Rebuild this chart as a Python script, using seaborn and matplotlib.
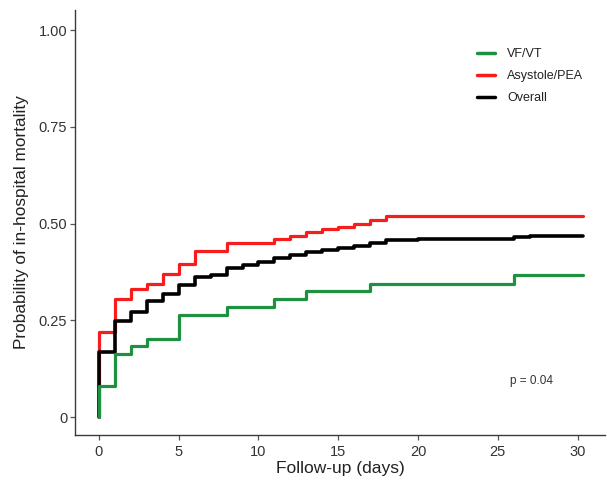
import numpy as np
import pandas as pd
import matplotlib
matplotlib.use("Agg")
import matplotlib.pyplot as plt
from matplotlib.lines import Line2D
import seaborn as sns

# ---- data ----
groups = ["VF/VT", "Asystole/PEA", "Overall"]
colors = ["#1e9140", "#f71d1d", "#000000"]

vf_days = [0, 0, 1, 2, 3, 5, 8, 11, 13, 17, 26, 30.35]
vf_prob = [0, 0.080, 0.163, 0.183, 0.201, 0.263, 0.285, 0.305, 0.326, 0.345, 0.367, 0.367]

asy_days = [0, 0, 1, 2, 3, 4, 5, 6, 8, 11, 12, 13, 14, 15, 16, 17, 18, 30.35]
asy_prob = [0, 0.219, 0.305, 0.332, 0.344, 0.369, 0.396, 0.430, 0.451, 0.460, 0.468,
            0.479, 0.486, 0.492, 0.500, 0.509, 0.520, 0.520]

all_days = [0, 0, 1, 2, 3, 4, 5, 6, 7, 8, 9, 10, 11, 12, 13, 14, 15, 16, 17, 18,
            20, 22, 26, 27, 30.35]
all_prob = [0, 0.168, 0.249, 0.272, 0.300, 0.317, 0.341, 0.361, 0.367, 0.386, 0.394,
            0.401, 0.410, 0.419, 0.427, 0.432, 0.436, 0.443, 0.449, 0.457,
            0.459, 0.461, 0.464, 0.467, 0.467]

x_ticks = [0, 5, 10, 15, 20, 25, 30]
y_ticks = [0, 0.25, 0.50, 0.75, 1.00]
y_tick_labels = ["0", "0.25", "0.50", "0.75", "1.00"]
p_text = "p = 0.04"

df = pd.concat([
    pd.DataFrame({"day": vf_days, "prob": vf_prob, "group": groups[0]}),
    pd.DataFrame({"day": asy_days, "prob": asy_prob, "group": groups[1]}),
    pd.DataFrame({"day": all_days, "prob": all_prob, "group": groups[2]}),
], ignore_index=True)

sns.set_style("white")
plt.rcParams["font.family"] = ["Liberation Sans", "DejaVu Sans"]

fig = plt.figure(figsize=(6.07, 4.84), dpi=100)
ax = fig.add_axes([75 / 607, 1 - 435 / 484, 530 / 607, 425 / 484])

sns.lineplot(data=df, x="day", y="prob", hue="group", hue_order=groups,
             palette=dict(zip(groups, colors)), drawstyle="steps-post",
             estimator=None, sort=False, linewidth=2.3, legend=False, ax=ax)

# layering: red bottom, black middle, green top
z = {0: 3.2, 1: 2.8, 2: 3.0}
for i, ln in enumerate(ax.lines[:3]):
    ln.set_zorder(z[i])
ax.lines[2].set_linewidth(2.6)

ax.set_xlim(-1.5, 31.72)
ax.set_ylim(-0.0465, 1.052)
ax.set_xticks(x_ticks)
ax.set_xticklabels([str(t) for t in x_ticks])
ax.set_yticks(y_ticks)
ax.set_yticklabels(y_tick_labels)

for s in ["top", "right"]:
    ax.spines[s].set_visible(False)
for s in ["left", "bottom"]:
    ax.spines[s].set_color("#3a3a3a")
    ax.spines[s].set_linewidth(1.0)

ax.tick_params(axis="both", which="major", direction="out", length=3.5, width=0.9,
               color="#555555", labelsize=10.5, labelcolor="#333333", pad=2,
               left=True, bottom=True)
ax.tick_params(axis="x", pad=3.5)

ax.set_xlabel("Follow-up (days)", fontsize=12.5, color="#222222", labelpad=2)
ax.set_ylabel("Probability of in-hospital mortality", fontsize=12.4, color="#222222", labelpad=7)

handles = [Line2D([0], [0], color=c, lw=2.5) for c in colors]
leg = ax.legend(handles, groups, loc="upper left",
                bbox_to_anchor=(477 / 607, 1 - 48 / 484), bbox_transform=fig.transFigure,
                frameon=False, fontsize=9.0, handlelength=1.4, handletextpad=1.0,
                labelspacing=0.8, borderpad=0, borderaxespad=0)
for t in leg.get_texts():
    t.set_color("#222222")

ax.text(27.1, 0.093, p_text, fontsize=8.5, color="#333333", ha="center", va="center")

fig.savefig("out.png", dpi=100, facecolor="white")
